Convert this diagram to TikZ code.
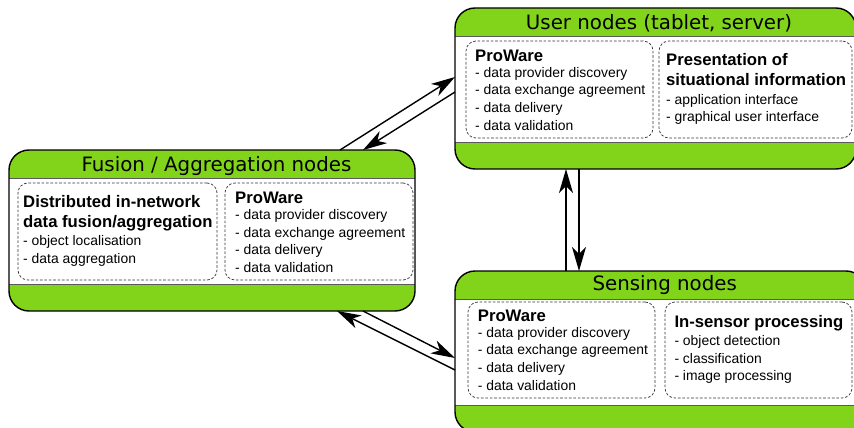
\documentclass[tikz,border=0pt]{standalone}
\usepackage{fontspec}
\setmainfont{Liberation Sans}
\newfontfamily\headfont{DejaVu Sans}
\usetikzlibrary{arrows.meta,calc}
\definecolor{tiergreen}{RGB}{129,212,26}
\definecolor{sepgray}{RGB}{90,90,90}
\newcommand{\ttl}[1]{{\fontsize{16.7}{20}\selectfont\bfseries #1}}

\begin{document}
\begin{tikzpicture}[x=1pt,y=-1pt,
  tier/.style={fill=tiergreen, draw=none, rounded corners=20pt, inner sep=0pt, outer sep=0pt,
               minimum width=#1, minimum height=161pt},
  tierline/.style={draw=black, line width=1.4pt, rounded corners=20pt},
  sepline/.style={draw=sepgray, line width=0.8pt},
  inbox/.style={draw=black!80, line width=0.7pt, dash pattern=on 2.6pt off 1.8pt,
                rounded corners=10pt, inner sep=0pt, outer sep=0pt},
  headtext/.style={font=\headfont\fontsize{19.8}{24}\selectfont, anchor=base, inner sep=0pt},
  % multi-line blocks are placed by the baseline of their last line
  bodytext/.style={font=\fontsize{13.9}{17.6}\selectfont, align=left, anchor=base west, inner sep=0pt},
  flow/.style={draw=black, line width=1.4pt, -{Stealth[length=24pt,width=14pt,inset=7pt]}}]
\useasboundingbox (0,0) rectangle (854,428);

% ---- tier boxes: green frame, white body, separators, outline
\foreach \nm/\cx/\cy/\w in {user/655.5/88.5/401pt, fusion/212/230.5/406pt, sensing/660.5/351.5/411pt}{
  \node[tier=\w] (\nm) at (\cx,\cy) {};
  \fill[white] ([yshift=-28pt]\nm.north west) rectangle ([yshift=27pt]\nm.south east);
  \draw[sepline] ([yshift=-28pt]\nm.north west) -- ([yshift=-28pt]\nm.north east);
  \draw[sepline] ([yshift=27pt]\nm.south west) -- ([yshift=27pt]\nm.south east);
  \draw[tierline] (\nm.north west) rectangle (\nm.south east);
}

% ---- headers
\node[headtext] (userhead) at (659,29.3) {User nodes (tablet, server)};
\node[headtext] (fusionhead) at (216.5,171) {Fusion / Aggregation nodes};
\node[headtext] (sensinghead) at (664.7,290.7) {Sensing nodes};

% ---- inner function boxes
\node[inbox, minimum width=187pt, minimum height=97pt] (uprow) at (559.5,89.5) {};
\node[inbox, minimum width=193pt, minimum height=97pt] (upres) at (755.5,89.5) {};
\node[inbox, minimum width=199pt, minimum height=97pt] (fdist) at (117.5,231.5) {};
\node[inbox, minimum width=188pt, minimum height=97pt] (fprow) at (319,231.5) {};
\node[inbox, minimum width=187pt, minimum height=96pt] (sprow) at (561.5,350) {};
\node[inbox, minimum width=187pt, minimum height=96pt] (sproc) at (758.5,350) {};

% ---- texts
\node[bodytext] (uprowt) at (475,130) {\ttl{ProWare}\\[-2pt]
  - data provider discovery\\- data exchange agreement\\- data delivery\\- data validation};
\node[bodytext] (uprest) at (666,121.7) {\ttl{Presentation of}\\[2.4pt]\ttl{situational information}\\[1.4pt]
  - application interface\\- graphical user interface};
\node[bodytext] (fdistt) at (23,263.3) {\ttl{Distributed in-network}\\[2.4pt]\ttl{data fusion/aggregation}\\[0.7pt]
  - object localisation\\- data aggregation};
\node[bodytext] (fprowt) at (235,272.3) {\ttl{ProWare}\\[-2pt]
  - data provider discovery\\- data exchange agreement\\- data delivery\\- data validation};
\node[bodytext] (sprowt) at (477.7,390) {\ttl{ProWare}\\[-2pt]
  - data provider discovery\\- data exchange agreement\\- data delivery\\- data validation};
\node[bodytext] (sproct) at (674.3,380.7) {\ttl{In-sensor processing}\\[0.7pt]
  - object detection\\- classification\\- image processing};

% ---- connector end points on the tier borders
\coordinate (fu1) at ([xshift=-75pt]fusion.north east);
\coordinate (fu2) at ([xshift=-52pt]fusion.north east);
\coordinate (uf1) at ([yshift=-69pt]user.north west);
\coordinate (uf2) at ([yshift=-84pt]user.north west);
\coordinate (us1) at ([xshift=-89.5pt]user.south);
\coordinate (us2) at ([xshift=-76.5pt]user.south);
\coordinate (su1) at ([xshift=-94.5pt]sensing.north);
\coordinate (su2) at ([xshift=-81.5pt]sensing.north);
\coordinate (fs1) at ([xshift=-52pt]fusion.south east);
\coordinate (fs2) at ([xshift=-78pt]fusion.south east);
\coordinate (sf1) at ([yshift=-87pt]sensing.north west);
\coordinate (sf2) at ([yshift=-99pt]sensing.north west);

% ---- data flows
\draw[flow] (fu1) -- (uf1);
\draw[flow] (uf2) -- (fu2);
\draw[flow] (su1) -- (us1);
\draw[flow] (us2) -- (su2);
\draw[flow] (fs1) -- (sf1);
\draw[flow] (sf2) -- (fs2);
\end{tikzpicture}
\end{document}
